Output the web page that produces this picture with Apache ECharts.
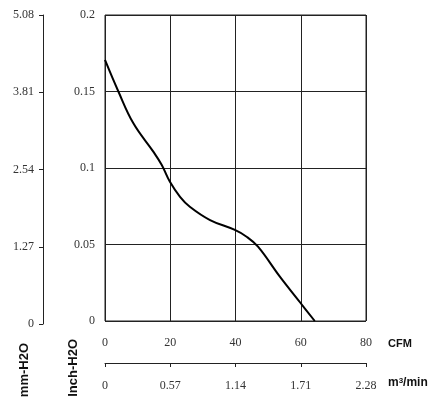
<!DOCTYPE html>
<html><head><meta charset="utf-8">
<script src="https://cdn.jsdelivr.net/npm/echarts@6/dist/echarts.min.js"></script>
<style>html,body{margin:0;padding:0;background:#fff}#c{width:436px;height:409px}</style>
</head><body><div id="c"></div>
<script>
const cfmTicks = [0, 20, 40, 60, 80];
const m3Ticks = ['0', '0.57', '1.14', '1.71', '2.28'];
const inchTicks = [0, 0.05, 0.1, 0.15, 0.2];
const mmTicks = ['0', '1.27', '2.54', '3.81', '5.08'];
const flowCFM = [0, 4.1, 8.7, 14.8, 17.4, 19.9, 23.0, 26.0, 32.2, 39.8, 43.4, 46.9, 53.6, 60.0, 64.3];
const pressureInch = [0.1706, 0.15, 0.1292, 0.1107, 0.102, 0.091, 0.0812, 0.0747, 0.066, 0.0595, 0.0551, 0.0486, 0.029, 0.0116, 0];

const serif = 'Liberation Serif';
const lblStyle = {fontFamily: serif, fontSize: 12, color: '#333'};
const chart = echarts.init(document.getElementById('c'), null, {renderer: 'canvas'});
chart.setOption({
  animation: false,
  grid: [
    {left: 105, right: 70, top: 15, bottom: 88, show: true, borderColor: '#222', borderWidth: 1},
    {left: 43, width: 1, top: 15, bottom: 85}
  ],
  xAxis: [
    {gridIndex: 0, type: 'value', min: 0, max: 80, interval: 20,
     axisLine: {show: false}, axisTick: {show: false},
     splitLine: {show: true, lineStyle: {color: '#222', width: 1}},
     axisLabel: Object.assign({margin: 16, formatter: v => String(v)}, lblStyle),
     name: 'CFM', nameLocation: 'end', nameGap: 22,
     nameTextStyle: {fontFamily: 'Liberation Sans', fontWeight: 'bold', fontSize: 11, color: '#111', verticalAlign: 'top', padding: [17, 0, 0, 0]}},
    {gridIndex: 0, type: 'value', min: 0, max: 2.28, interval: 0.57, position: 'bottom', offset: 42,
     axisLine: {show: true, lineStyle: {color: '#222', width: 1}},
     axisTick: {show: true, length: 4, lineStyle: {color: '#222'}},
     splitLine: {show: false},
     axisLabel: Object.assign({margin: 17, formatter: (v, i) => m3Ticks[i] !== undefined ? m3Ticks[i] : ''}, lblStyle),
     name: '{b|m}{s|3}{b|/min}', nameLocation: 'end', nameGap: 22,
     nameTextStyle: {verticalAlign: 'top', padding: [14, 0, 0, 0],
       rich: {
         b: {fontFamily: 'Liberation Sans', fontWeight: 'bold', fontSize: 12, color: '#111', verticalAlign: 'bottom'},
         s: {fontFamily: 'Liberation Sans', fontWeight: 'bold', fontSize: 8, color: '#111', verticalAlign: 'top'}}}},
    {gridIndex: 1, type: 'value', min: 0, max: 1, show: false}
  ],
  yAxis: [
    {gridIndex: 0, type: 'value', min: 0, max: 0.2, interval: 0.05,
     axisLine: {show: false}, axisTick: {show: false},
     splitLine: {show: true, lineStyle: {color: '#222', width: 1}},
     axisLabel: Object.assign({margin: 10, formatter: v => {const k = inchTicks.findIndex(t => Math.abs(t - v) < 1e-9); return k >= 0 ? String(inchTicks[k]) : '';}}, lblStyle)},
    {gridIndex: 1, type: 'value', min: 0, max: 5.08, interval: 1.27,
     axisLine: {show: true, lineStyle: {color: '#222', width: 1}},
     axisTick: {show: true, length: 4, lineStyle: {color: '#222'}},
     splitLine: {show: false},
     axisLabel: Object.assign({margin: 9, formatter: (v, i) => mmTicks[i] !== undefined ? mmTicks[i] : ''}, lblStyle)}
  ],
  graphic: [
    {type: 'text', left: 18, top: 343, rotation: Math.PI / 2, style: {text: 'mm-H2O', font: 'bold 13px "Liberation Sans"', fill: '#111'}},
    {type: 'text', left: 67, top: 339, rotation: Math.PI / 2, style: {text: 'Inch-H2O', font: 'bold 13px "Liberation Sans"', fill: '#111'}}
  ],
  series: [{
    type: 'line', xAxisIndex: 0, yAxisIndex: 0, smooth: 0.4, showSymbol: false,
    lineStyle: {color: '#000', width: 2},
    data: flowCFM.map((x, i) => [x, pressureInch[i]])
  }]
});
</script></body></html>
